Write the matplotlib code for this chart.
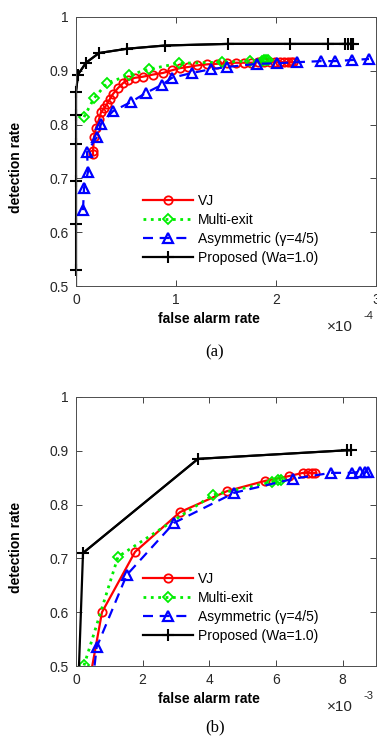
import matplotlib
matplotlib.use('Agg')
import matplotlib.pyplot as plt

plt.rcParams['font.family'] = ['Liberation Sans', 'DejaVu Sans']
plt.rcParams['font.size'] = 10

# ---- panel (a): false alarm rate in units of 1e-4 ----
a_vj_x = [0.17, 0.17, 0.18, 0.20, 0.23, 0.25, 0.28, 0.31, 0.34, 0.37, 0.42, 0.47, 0.52,
          0.59, 0.67, 0.77, 0.87, 0.96, 1.04, 1.12, 1.21, 1.31, 1.41, 1.51, 1.60, 1.68,
          1.75, 1.82, 1.88, 1.94, 1.99, 2.04, 2.08, 2.12, 2.15, 2.17]
a_vj_y = [0.745, 0.751, 0.777, 0.794, 0.810, 0.823, 0.830, 0.838, 0.848, 0.857, 0.868,
          0.877, 0.883, 0.887, 0.889, 0.893, 0.896, 0.901, 0.905, 0.907, 0.910, 0.912,
          0.913, 0.914, 0.915, 0.915, 0.915, 0.916, 0.916, 0.916, 0.916, 0.916, 0.916,
          0.916, 0.916, 0.916]
a_me_x = [0.08, 0.18, 0.31, 0.53, 0.73, 1.03, 1.46, 1.74, 1.86, 1.88, 1.90, 1.92]
a_me_y = [0.814, 0.849, 0.877, 0.892, 0.903, 0.914, 0.916, 0.918, 0.919, 0.920, 0.920, 0.920]
a_as_x = [0.07, 0.08, 0.12, 0.11, 0.21, 0.25, 0.37, 0.55, 0.70, 0.86, 0.96, 1.16, 1.35,
          1.51, 1.81, 2.01, 2.21, 2.45, 2.59, 2.76, 2.93]
a_as_y = [0.641, 0.682, 0.712, 0.749, 0.777, 0.801, 0.825, 0.842, 0.859, 0.874, 0.887,
          0.896, 0.903, 0.907, 0.913, 0.914, 0.916, 0.918, 0.918, 0.920, 0.922]
a_pr_x = [0.0, 0.0, 0.0, 0.0, 0.0, 0.0, 0.0, 0.02, 0.10, 0.23, 0.51, 0.89, 1.52, 2.14,
          2.52, 2.69, 2.72, 2.75, 2.77]
a_pr_y = [0.50, 0.530, 0.615, 0.695, 0.764, 0.818, 0.861, 0.893, 0.915, 0.933, 0.941,
          0.947, 0.950, 0.950, 0.950, 0.950, 0.950, 0.950, 0.950]

# ---- panel (b): false alarm rate in units of 1e-3 ----
b_vj_x = [0.40, 0.78, 1.77, 3.12, 4.53, 5.67, 6.39, 6.81, 6.96, 7.08, 7.17]
b_vj_y = [0.47, 0.600, 0.712, 0.786, 0.825, 0.844, 0.853, 0.859, 0.859, 0.859, 0.859]
b_me_x = [0.24, 1.26, 4.11, 5.88, 6.06, 6.15]
b_me_y = [0.501, 0.703, 0.818, 0.842, 0.846, 0.846]
b_as_x = [0.50, 0.62, 1.52, 2.94, 4.75, 6.52, 7.65, 8.28, 8.52, 8.67, 8.76]
b_as_y = [0.47, 0.535, 0.669, 0.766, 0.822, 0.848, 0.859, 0.859, 0.861, 0.861, 0.861]
b_pr_x = [0.09, 0.21, 3.66, 8.13, 8.25]
b_pr_y = [0.50, 0.710, 0.885, 0.901, 0.901]

labels = ['VJ', 'Multi-exit', 'Asymmetric (\u03b3=4/5)', 'Proposed (Wa=1.0)']
yticks = [0.5, 0.6, 0.7, 0.8, 0.9, 1.0]
ytick_labels = ['0.5', '0.6', '0.7', '0.8', '0.9', '1']

fig = plt.figure(figsize=(3.77, 7.37), dpi=100)
ax_a = fig.add_axes([76 / 377, 1 - 286 / 737, 300 / 377, 269 / 737])
ax_b = fig.add_axes([76 / 377, 1 - 666 / 737, 300 / 377, 269 / 737])


def draw(ax, vj, me, asym, prop, xlim, xticks, exp, cap_y, leg_y):
    ax.plot(vj[0], vj[1], '-', color='#ff0000', lw=1.6, marker='o', ms=6,
            mfc='none', mec='#ff0000', mew=1.3, label=labels[0])
    ax.plot(me[0], me[1], ':', color='#00ee00', lw=2.0, marker='D', ms=5.5,
            mfc='none', mec='#00ee00', mew=1.3, label=labels[1])
    ax.plot(asym[0], asym[1], '--', color='#0000ff', lw=1.6, marker='^', ms=7,
            mfc='none', mec='#0000ff', mew=1.6, dashes=(4.5, 3), label=labels[2])
    # line clipped to the box, '+' markers may straddle the left spine
    ax.plot(prop[0], prop[1], '-', color='black', lw=1.6)
    ax.plot(prop[0][1:], prop[1][1:], 'none', color='black', marker='+', ms=9,
            mew=1.5, clip_on=False)
    ax.plot([], [], '-', color='black', lw=1.6, marker='+', ms=9, mew=1.5,
            label=labels[3])
    ax.set_xlim(xlim)
    ax.set_ylim(0.5, 1.0)
    ax.set_xticks(xticks)
    ax.set_xticklabels([str(t) for t in xticks])
    ax.set_yticks(yticks)
    ax.set_yticklabels(ytick_labels)
    ax.tick_params(direction='in', top=True, right=True, length=4, width=0.6,
                   colors='0.15', labelsize=10, pad=5)
    for s in ax.spines.values():
        s.set_color('0.3')
        s.set_linewidth(0.7)
    ax.set_xlabel('false alarm rate', fontweight='bold', fontsize=10)
    ax.set_ylabel('detection rate', fontweight='bold', fontsize=10)
    ax.xaxis.set_label_coords(0.443, -0.095)
    ax.yaxis.set_label_coords(-0.177, 0.44)
    leg = ax.legend(loc='upper left', bbox_to_anchor=(0.192, leg_y), frameon=True,
                    facecolor='white', edgecolor='none', framealpha=1,
                    handlelength=3.6, handletextpad=0.35, labelspacing=0.35,
                    borderpad=0.2, fontsize=10)
    leg.get_frame().set_linewidth(0)
    fig.text(327 / 377, 1 - cap_y / 737, '\u00d710', fontsize=11, color='0.15',
             va='center', ha='left')
    fig.text(364 / 377, 1 - (cap_y - 11) / 737, exp, fontsize=8, color='0.15',
             va='center', ha='left')


draw(ax_a, (a_vj_x, a_vj_y), (a_me_x, a_me_y), (a_as_x, a_as_y), (a_pr_x, a_pr_y),
     (0, 3), [0, 1, 2, 3], '-4', 327, 0.378)
draw(ax_b, (b_vj_x, b_vj_y), (b_me_x, b_me_y), (b_as_x, b_as_y), (b_pr_x, b_pr_y),
     (0, 9), [0, 2, 4, 6, 8], '-3', 707, 0.385)

fig.text(215 / 377, 1 - 352 / 737, '(a)', family='Liberation Serif', fontsize=12,
         ha='center', va='center')
fig.text(215 / 377, 1 - 727 / 737, '(b)', family='Liberation Serif', fontsize=12,
         ha='center', va='center')

fig.savefig('out.png', dpi=100)
